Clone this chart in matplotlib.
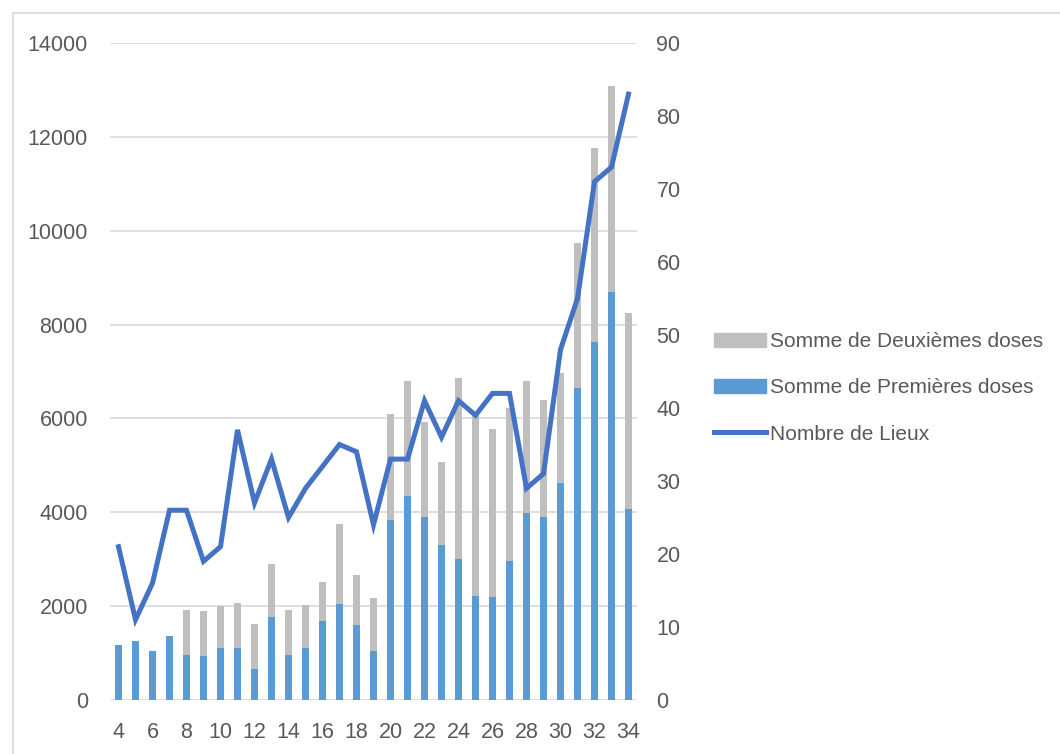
import matplotlib
matplotlib.use("Agg")
import matplotlib.pyplot as plt
from matplotlib.patches import Rectangle, Patch
from matplotlib.lines import Line2D

plt.rcParams['font.family'] = ['Liberation Sans', 'DejaVu Sans']

weeks = list(range(4, 35))
premieres = [1180, 1250, 1045, 1355, 955, 935, 1115, 1115, 665, 1765, 960, 1115,
             1685, 2050, 1600, 1045, 3830, 4355, 3890, 3310, 3015, 2215, 2200,
             2970, 3980, 3910, 4620, 6640, 7620, 8700, 4080]
totaux = [1180, 1250, 1045, 1355, 1928, 1890, 1998, 2068, 1612, 2890, 1912, 2026,
          2505, 3754, 2668, 2175, 6100, 6800, 5925, 5065, 6870, 6100, 5770,
          6215, 6795, 6395, 6960, 9745, 11755, 13085, 8255]
deuxiemes = [t - p for t, p in zip(totaux, premieres)]
lieux = [21, 11, 16, 26, 26, 19, 21, 37, 27, 33, 25, 29, 32, 35, 34, 24, 33, 33,
         41, 36, 41, 39, 42, 42, 29, 31, 48, 55, 71, 73, 83]

W, H = 1060, 754
fig = plt.figure(figsize=(W / 100, H / 100), dpi=100)
fig.patches.append(Rectangle((13 / W, -0.1), 1.2, (H - 13) / H + 0.1,
                             transform=fig.transFigure, fill=False,
                             edgecolor='#d9d9d9', linewidth=1.2))

ax = fig.add_axes([110 / W, (H - 700) / H, (637 - 110) / W, (700 - 43) / H])
tc = '#595959'
blue = '#5B9BD5'
grey = '#BFBFBF'
lc = '#4472C4'

ax.bar(weeks, premieres, width=0.42, color=blue, zorder=3)
ax.bar(weeks, deuxiemes, bottom=premieres, width=0.42, color=grey, zorder=3)
ax.set_xlim(3.5, 34.5)
ax.set_ylim(0, 14000)
ax.set_yticks(range(0, 14001, 2000))
ax.set_xticks(range(4, 35, 2))
ax.yaxis.grid(True, color='#d9d9d9', linewidth=1.2, zorder=0)
ax.set_axisbelow(True)
for s in ax.spines.values():
    s.set_visible(False)
ax.tick_params(axis='y', length=0, pad=16, labelsize=15.5, labelcolor=tc)
ax.tick_params(axis='x', length=0, pad=16, labelsize=15.5, labelcolor=tc)

ax2 = ax.twinx()
ax2.plot(weeks, lieux, color=lc, linewidth=3.6, solid_joinstyle='miter', zorder=4)
ax2.set_ylim(0, 90)
ax2.set_yticks(range(0, 91, 10))
for s in ax2.spines.values():
    s.set_visible(False)
ax2.tick_params(axis='y', length=0, pad=14, labelsize=15.5, labelcolor=tc)

handles = [Patch(color=grey), Patch(color=blue), Line2D([], [], color=lc, linewidth=3.6)]
labels = ['Somme de Deuxièmes doses', 'Somme de Premières doses', 'Nombre de Lieux']
fig.legend(handles, labels, loc='center left', bbox_to_anchor=(695 / W, (H - 388) / H),
           frameon=False, fontsize=15, labelcolor=tc, handlelength=2.5,
           handleheight=0.65, handletextpad=0.2, labelspacing=1.3)

fig.savefig('out.png', dpi=100)
